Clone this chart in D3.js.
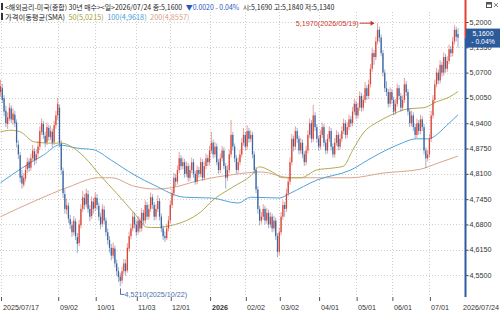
<!DOCTYPE html>
<html><head><meta charset="utf-8">
<script src="https://cdn.jsdelivr.net/npm/d3@7"></script>
<style>body{margin:0;background:#fff;overflow:hidden}svg{display:block}</style>
</head><body>
<script>
// ---- data (30Y US Treasury yield, daily) ----
const openV=[
5.020,5.030,5.004,4.972,4.938,4.952,4.978,4.948,4.962,4.942,
4.885,4.858,4.805,4.782,4.798,4.822,4.842,4.826,4.850,4.868,
4.846,4.862,4.880,4.918,4.938,4.908,4.892,4.928,4.904,4.918,
4.892,4.935,4.960,4.980,4.888,4.818,4.758,4.718,4.728,4.694,
4.678,4.660,4.688,4.648,4.632,4.678,4.720,4.748,4.732,4.758,
4.720,4.702,4.738,4.722,4.748,4.728,4.700,4.682,4.718,4.690,
4.660,4.640,4.620,4.600,4.618,4.580,4.560,4.546,4.536,4.560,
4.580,4.562,4.618,4.650,4.670,4.700,4.680,4.662,4.690,4.670,
4.710,4.690,4.730,4.700,4.720,4.750,4.730,4.700,4.720,4.740,
4.700,4.670,4.650,4.645,4.670,4.690,4.730,4.760,4.800,4.790,
4.820,4.850,4.830,4.840,4.810,4.830,4.800,4.820,4.840,4.810,
4.790,4.820,4.810,4.840,4.800,4.830,4.850,4.840,4.870,4.890,
4.860,4.880,4.840,4.820,4.850,4.870,4.830,4.800,4.820,4.860,
4.910,4.880,4.850,4.820,4.840,4.860,4.890,4.910,4.880,4.920,
4.900,4.910,4.860,4.820,4.770,4.720,4.690,4.700,4.720,4.690,
4.710,4.680,4.700,4.670,4.690,4.650,4.610,4.660,4.700,4.730,
4.720,4.760,4.790,4.840,4.900,4.880,4.920,4.900,4.870,4.890,
4.860,4.840,4.870,4.910,4.940,4.900,4.960,4.930,4.900,4.880,
4.910,4.930,4.890,4.870,4.900,4.920,4.880,4.860,4.890,4.910,
4.880,4.900,4.920,4.940,4.910,4.930,4.950,4.940,4.970,4.990,
4.960,4.980,5.010,4.980,5.000,5.030,5.010,5.040,5.080,5.120,
5.110,5.150,5.180,5.160,5.120,5.070,5.030,5.020,4.990,5.020,
5.000,4.970,4.990,5.030,5.010,4.980,5.000,5.040,5.020,4.970,
4.940,4.960,4.930,4.910,4.940,4.920,4.950,4.930,4.870,4.850,
4.860,4.900,4.960,5.000,5.040,5.070,5.050,5.090,5.070,5.110,
5.080,5.100,5.130,5.120,5.150,5.180,5.169];
const highV=[
5.052,5.041,5.012,4.985,4.968,4.992,4.986,4.978,4.972,4.950,
4.896,4.866,4.820,4.812,4.832,4.852,4.850,4.862,4.884,4.876,
4.872,4.894,4.932,4.952,4.946,4.918,4.942,4.936,4.934,4.926,
4.946,4.972,5.005,4.988,4.896,4.826,4.770,4.746,4.736,4.705,
4.688,4.702,4.696,4.658,4.692,4.732,4.766,4.758,4.772,4.768,
4.730,4.752,4.748,4.762,4.758,4.736,4.710,4.732,4.728,4.698,
4.670,4.650,4.630,4.634,4.626,4.590,4.570,4.556,4.572,4.592,
4.590,4.632,4.662,4.682,4.712,4.710,4.690,4.702,4.698,4.722,
4.718,4.742,4.738,4.732,4.762,4.758,4.738,4.732,4.755,4.748,
4.708,4.678,4.662,4.682,4.702,4.742,4.772,4.812,4.810,4.832,
4.866,4.858,4.852,4.848,4.842,4.838,4.832,4.852,4.848,4.818,
4.832,4.828,4.852,4.848,4.842,4.862,4.858,4.882,4.918,4.898,
4.892,4.888,4.848,4.862,4.882,4.878,4.838,4.832,4.872,4.948,
4.918,4.888,4.858,4.852,4.872,4.902,4.928,4.918,4.935,4.928,
4.922,4.918,4.868,4.828,4.778,4.728,4.712,4.732,4.728,4.722,
4.718,4.712,4.708,4.702,4.698,4.658,4.672,4.712,4.742,4.738,
4.772,4.802,4.852,4.912,4.908,4.932,4.928,4.908,4.902,4.898,
4.868,4.882,4.922,4.952,4.948,4.987,4.968,4.938,4.908,4.922,
4.942,4.938,4.898,4.912,4.932,4.928,4.888,4.902,4.922,4.918,
4.912,4.932,4.952,4.948,4.942,4.962,4.958,4.982,5.002,4.998,
4.992,5.022,5.018,5.012,5.046,5.038,5.052,5.092,5.133,5.128,
5.162,5.197,5.188,5.168,5.128,5.078,5.048,5.028,5.032,5.028,
5.008,5.002,5.042,5.038,5.018,5.012,5.056,5.048,5.028,4.978,
4.972,4.968,4.938,4.952,4.948,4.962,4.958,4.938,4.878,4.872,
4.912,4.972,5.012,5.052,5.082,5.078,5.102,5.098,5.122,5.118,
5.112,5.142,5.138,5.162,5.192,5.188,5.184];
const lowV=[
5.008,4.992,4.958,4.930,4.925,4.945,4.940,4.936,4.930,4.878,
4.848,4.788,4.772,4.776,4.790,4.812,4.815,4.818,4.842,4.832,
4.836,4.852,4.872,4.910,4.900,4.878,4.884,4.895,4.896,4.878,
4.884,4.926,4.948,4.878,4.808,4.748,4.708,4.706,4.684,4.668,
4.648,4.652,4.640,4.607,4.624,4.670,4.712,4.718,4.724,4.710,
4.688,4.694,4.708,4.714,4.718,4.690,4.668,4.674,4.680,4.650,
4.628,4.608,4.588,4.592,4.570,4.548,4.532,4.521,4.528,4.552,
4.548,4.556,4.610,4.642,4.662,4.670,4.650,4.654,4.660,4.662,
4.680,4.682,4.692,4.692,4.712,4.720,4.690,4.692,4.712,4.690,
4.660,4.640,4.635,4.640,4.662,4.682,4.722,4.752,4.778,4.782,
4.812,4.820,4.822,4.800,4.802,4.790,4.792,4.812,4.800,4.782,
4.784,4.800,4.802,4.792,4.794,4.822,4.830,4.832,4.862,4.850,
4.852,4.832,4.810,4.812,4.842,4.822,4.772,4.792,4.812,4.852,
4.870,4.840,4.810,4.812,4.832,4.852,4.882,4.870,4.872,4.890,
4.892,4.850,4.810,4.760,4.708,4.678,4.682,4.692,4.680,4.682,
4.670,4.672,4.660,4.662,4.640,4.596,4.602,4.652,4.692,4.700,
4.712,4.752,4.782,4.832,4.868,4.872,4.890,4.860,4.862,4.850,
4.830,4.832,4.862,4.902,4.890,4.892,4.920,4.890,4.870,4.872,
4.902,4.880,4.860,4.862,4.892,4.870,4.852,4.852,4.882,4.870,
4.872,4.892,4.912,4.900,4.902,4.922,4.930,4.932,4.962,4.950,
4.952,4.972,4.970,4.972,4.992,5.000,5.002,5.032,5.072,5.090,
5.102,5.142,5.148,5.112,5.060,5.020,5.010,4.980,4.982,4.990,
4.960,4.962,4.982,5.000,4.970,4.972,4.992,5.010,4.960,4.930,
4.932,4.920,4.900,4.902,4.910,4.912,4.920,4.860,4.825,4.842,
4.852,4.892,4.952,4.992,5.032,5.040,5.042,5.060,5.062,5.070,
5.072,5.092,5.110,5.112,5.142,5.150,5.134];
const closeV=[
5.035,5.000,4.970,4.940,4.955,4.980,4.950,4.965,4.940,4.890,
4.860,4.800,4.785,4.800,4.820,4.840,4.825,4.850,4.870,4.845,
4.860,4.880,4.920,4.940,4.910,4.890,4.930,4.905,4.920,4.890,
4.935,4.960,4.990,4.890,4.820,4.760,4.720,4.730,4.695,4.680,
4.660,4.690,4.650,4.630,4.680,4.720,4.750,4.730,4.760,4.720,
4.700,4.740,4.720,4.750,4.730,4.700,4.680,4.720,4.690,4.660,
4.640,4.620,4.600,4.620,4.580,4.560,4.545,4.535,4.560,4.580,
4.560,4.620,4.650,4.670,4.700,4.680,4.660,4.690,4.670,4.710,
4.690,4.730,4.700,4.720,4.750,4.730,4.700,4.720,4.740,4.700,
4.670,4.650,4.645,4.670,4.690,4.730,4.760,4.800,4.790,4.820,
4.850,4.830,4.840,4.810,4.830,4.800,4.820,4.840,4.810,4.790,
4.820,4.810,4.840,4.800,4.830,4.850,4.840,4.870,4.890,4.860,
4.880,4.840,4.820,4.850,4.870,4.830,4.800,4.820,4.860,4.910,
4.880,4.850,4.820,4.840,4.860,4.890,4.910,4.880,4.920,4.900,
4.910,4.860,4.820,4.770,4.720,4.690,4.700,4.720,4.690,4.710,
4.680,4.700,4.670,4.690,4.650,4.610,4.660,4.700,4.730,4.720,
4.760,4.790,4.840,4.900,4.880,4.920,4.900,4.870,4.890,4.860,
4.840,4.870,4.910,4.940,4.900,4.960,4.930,4.900,4.880,4.910,
4.930,4.890,4.870,4.900,4.920,4.880,4.860,4.890,4.910,4.880,
4.900,4.920,4.940,4.910,4.930,4.950,4.940,4.970,4.990,4.960,
4.980,5.010,4.980,5.000,5.030,5.010,5.040,5.080,5.120,5.110,
5.150,5.180,5.160,5.120,5.070,5.030,5.020,4.990,5.020,5.000,
4.970,4.990,5.030,5.010,4.980,5.000,5.040,5.020,4.970,4.940,
4.960,4.930,4.910,4.940,4.920,4.950,4.930,4.870,4.850,4.860,
4.900,4.960,5.000,5.040,5.070,5.050,5.090,5.070,5.110,5.080,
5.100,5.130,5.120,5.150,5.180,5.162,5.160];

// moving averages: [bar index, value]
const ma50=[[0,4.918],[6,4.922],[11,4.918],[19,4.892],[28,4.889],[34,4.889],[40,4.879],[47,4.853],[56,4.805],[65,4.76],[75,4.708],[82,4.673],[87,4.672],[96,4.678],[104,4.69],[112,4.712],[119,4.743],[130,4.776],[140,4.805],[145,4.828],[152,4.815],[158,4.80],[168,4.80],[177,4.82],[186,4.825],[192,4.83],[197,4.87],[203,4.915],[211,4.943],[218,4.96],[228,4.977],[237,4.98],[244,4.995],[251,5.007],[256,5.0215]];
const ma100=[[0,4.787],[12,4.825],[24,4.858],[33,4.884],[43,4.876],[52,4.872],[62,4.845],[75,4.807],[86,4.781],[103,4.75],[118,4.748],[133,4.735],[140,4.75],[156,4.748],[162,4.76],[177,4.794],[196,4.82],[208,4.852],[222,4.884],[233,4.90],[239,4.90],[251,4.94],[256,4.9618]];
const ma200=[[0,4.70],[19,4.740],[38,4.776],[55,4.80],[62,4.80],[75,4.778],[87,4.771],[95,4.774],[112,4.794],[130,4.808],[146,4.815],[162,4.80],[196,4.80],[214,4.812],[235,4.822],[245,4.838],[256,4.8557]];

const xTickIdx=[0,32,53,76,95,117,137,156,178,199,219,240];
const xTickLbl=["2025/07/17","09/02","10/01","11/03","12/01","2026","02/02","03/02","04/01","05/01","06/01","07/01"];
const lastDateLbl="2026/07/24";
const yTicks=[5.2,5.135,5.07,5.005,4.94,4.875,4.81,4.745,4.68,4.615,4.55];
const hiIdx=211, hiLbl="5,1970(2026/05/19)";
const loIdx=67, loLbl="4,5210(2025/10/22)";
const lastPrice=5.16, lastChg="- 0.04%";
const header1=[["<해외금리-미국(종합) 30년 매수><일>2026/07/24 종:5,1600","#222"],["▼0.0020 - 0.04%","#2a55c0"],["시:5,1690 고:5,1840 저:5,1340","#222"]];
const header2=[["가격이동평균(SMA)","#222"],["50(5,0215)","#a9a040"],["100(4,9618)","#4a9ed6"],["200(4,8557)","#d9a088"]];

// ---- drawing ----
const W=500,H=314,N=closeV.length;
const RED="#d8392b",BLUE="#2f5c9c";
const svg=d3.select("body").append("svg").attr("width",W).attr("height",H);

// pick a narrow latin font if one is installed
function measure(str,fam,size){
  const t=svg.append("text").attr("font-size",size).attr("font-family",fam).text(str);
  const w=t.node().getComputedTextLength(); t.remove(); return w;
}
const SAMPLE="2025/07/17 5,2000 mw";
let NARROW=null;
for(const c of ["Liberation Sans Narrow","Arial Narrow","DejaVu Sans Condensed","Nimbus Sans Narrow"]){
  const a=measure(SAMPLE,`'${c}',monospace`,20), b=measure(SAMPLE,"monospace",20);
  if(Math.abs(a-b)>0.5 && a<measure(SAMPLE,"'Liberation Sans'",20)*0.92){NARROW=c;break;}
}
const LAT = NARROW?`'${NARROW}','Liberation Sans',sans-serif`:"'Liberation Sans',Arial,sans-serif";
// font size that gives "2025/07/17" ~36px wide
const AXSIZE = Math.min(10, 36/measure("2025/07/17",LAT,10)*10);
svg.style("font-family",LAT);

const x=d3.scaleLinear().domain([0,N-1]).range([0.5,458]);
const y=d3.scaleLinear().domain([4.55,5.2]).range([275.1,22]);
const AX=465.5, BOT=297;

// grid
svg.append("g").selectAll("line").data(yTicks).join("line")
  .attr("x1",0).attr("x2",AX).attr("y1",d=>Math.round(y(d))+0.5).attr("y2",d=>Math.round(y(d))+0.5)
  .attr("stroke","#cfcfcf").attr("stroke-dasharray","1,2");
svg.append("g").selectAll("line").data(xTickIdx).join("line")
  .attr("x1",d=>Math.round(x(d))+0.5).attr("x2",d=>Math.round(x(d))+0.5).attr("y1",12).attr("y2",BOT)
  .attr("stroke","#cfcfcf").attr("stroke-dasharray","1,2");

// moving averages
const line=d3.line().x(d=>x(d[0])).y(d=>y(d[1])).curve(d3.curveMonotoneX);
[[ma200,"#dba48a"],[ma100,"#4ea4d8"],[ma50,"#b2aa50"]].forEach(([d,c])=>{
  svg.append("path").datum(d).attr("d",line).attr("fill","none").attr("stroke",c).attr("stroke-width",1);
});

// candles
const g=svg.append("g");
d3.range(N).forEach(i=>{
  const up=closeV[i]>=openV[i], c=up?RED:BLUE, cx=x(i);
  g.append("line").attr("x1",cx).attr("x2",cx).attr("y1",y(highV[i])).attr("y2",y(lowV[i]))
    .attr("stroke",c).attr("stroke-width",0.8).attr("opacity",0.6);
  const y0=y(Math.max(openV[i],closeV[i])), y1=y(Math.min(openV[i],closeV[i]));
  g.append("rect").attr("x",cx-0.65).attr("width",1.3).attr("y",y0).attr("height",Math.max(0.8,y1-y0))
    .attr("fill",c).attr("opacity",0.9);
});

function txt(px,py,str,o={}){
  const t=svg.append("text").attr("x",px).attr("y",py).attr("font-size",o.size||AXSIZE)
    .attr("fill",o.fill||"#333").text(str);
  if(o.family) t.attr("font-family",o.family);
  if(o.anchor) t.attr("text-anchor",o.anchor);
  if(o.dy) t.attr("dy",o.dy);
  if(o.bold) t.attr("font-weight","bold");
  return t.node().getComputedTextLength();
}

// high annotation
const hx=x(hiIdx), hy=y(highV[hiIdx]);
svg.append("line").attr("x1",hx-18).attr("x2",hx-4).attr("y1",hy).attr("y2",hy).attr("stroke","#c8372c");
svg.append("path").attr("d",`M${hx-3},${hy}l-4,-2.5v5z`).attr("fill","#c8372c");
txt(hx-19,hy,hiLbl,{anchor:"end",dy:"0.35em",fill:"#c8372c"});

// low annotation
const lx=Math.round(x(loIdx))+0.5, ly=y(lowV[loIdx]);
svg.append("path").attr("d",`M${lx},${ly+2}V${ly+8}H${lx+4}`).attr("fill","none").attr("stroke","#4d6fae");
txt(lx+4,ly+8,loLbl,{dy:"0.35em",fill:"#4d6fae"});

// x axis
const xa=svg.append("g").attr("transform",`translate(0,${BOT})`)
  .call(d3.axisBottom(x).tickValues(xTickIdx).tickSize(4).tickFormat(""));
xa.select(".domain").remove();
xa.selectAll(".tick line").attr("stroke","#555").attr("transform","translate(0.5,0)");
xTickIdx.forEach((d,i)=>txt(Math.round(x(d))+2,BOT+13,xTickLbl[i],{bold:xTickLbl[i]==="2026"}));
txt(499,BOT+13,lastDateLbl,{anchor:"end"});

// y axis
const ya=svg.append("g").attr("transform",`translate(${AX},0)`)
  .call(d3.axisRight(y).tickValues(yTicks).tickSize(3).tickFormat(""));
ya.select(".domain").remove();
ya.selectAll(".tick line").attr("stroke","#444");
yTicks.forEach(v=>txt(AX+4,y(v),v.toFixed(4).replace(".",","),{dy:"0.35em"}));
const py=y(lastPrice);
svg.append("line").attr("x1",AX).attr("x2",AX).attr("y1",0).attr("y2",py).attr("stroke","#e0402e").attr("stroke-width",2);
svg.append("line").attr("x1",AX).attr("x2",AX).attr("y1",py).attr("y2",BOT).attr("stroke","#2d5c9e").attr("stroke-width",2);
// price box
svg.append("rect").attr("x",466).attr("y",py-9).attr("width",34).attr("height",19).attr("fill","#2c5b9b");
txt(483,py-2,lastPrice.toFixed(4).replace(".",","),{anchor:"middle",fill:"#fff",size:AXSIZE*0.95});
txt(483,py+6,lastChg,{anchor:"middle",fill:"#fff",size:AXSIZE*0.95});

// top-right icons
svg.append("rect").attr("x",486.5).attr("y",2.5).attr("width",5).attr("height",5).attr("fill","#fff").attr("stroke","#555");
svg.append("rect").attr("x",487).attr("y",3).attr("width",4).attr("height",1.5).attr("fill","#555");
svg.append("path").attr("d","M494,3l4,4M498,3l-4,4").attr("stroke","#888");

// header: pieces sized so that they fit the reference widths
function header(yb, parts, target){
  svg.append("rect").attr("x",1).attr("y",yb-7).attr("width",2).attr("height",7).attr("fill","#333");
  const fam=`${NARROW?`'${NARROW}',`:""}'Noto Sans CJK KR','Noto Sans',sans-serif`;
  const gap=3.5, n=parts.length;
  const nat=d3.sum(parts,([s])=>measure(s,fam,10));
  const size=Math.min(9.5,(target-gap*(n-1))/nat*10);
  let cx=5;
  parts.forEach(([s,c])=>{ cx+=txt(cx,yb,s,{fill:c,family:fam,size:size})+gap; });
}
header(10,header1,330);
header(20,header2,185);
</script>
</body></html>
